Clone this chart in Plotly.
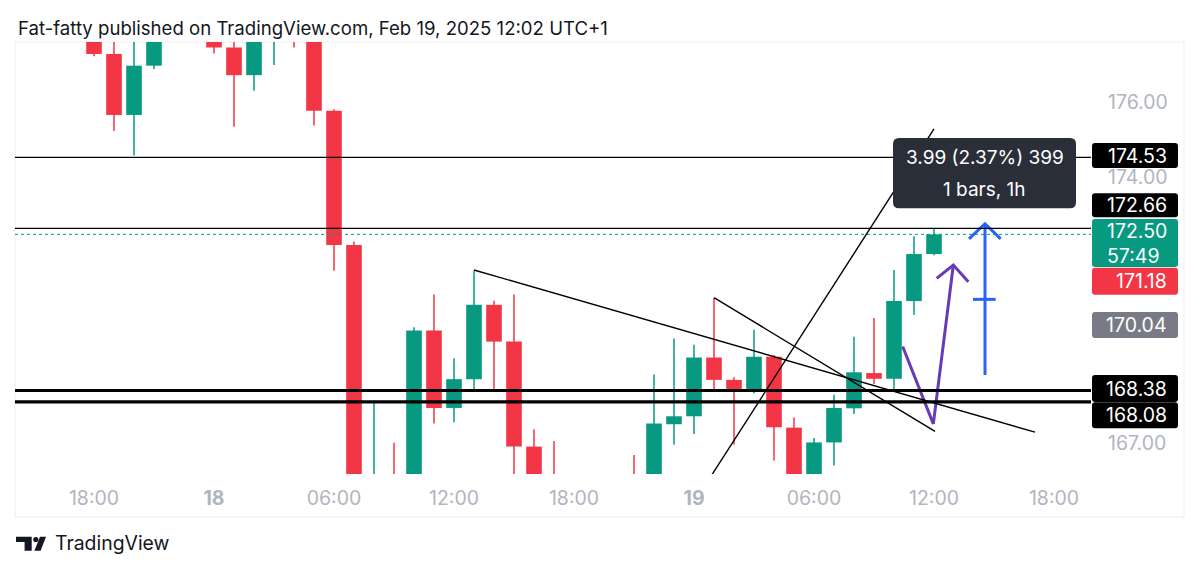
import plotly.graph_objects as go
import pandas as pd

# ---------------- data (1h candles) ----------------
times = [
    "2025-02-17 18:00", "2025-02-17 19:00", "2025-02-17 20:00", "2025-02-17 21:00",
    "2025-02-18 00:00", "2025-02-18 01:00", "2025-02-18 02:00", "2025-02-18 03:00",
    "2025-02-18 04:00", "2025-02-18 05:00", "2025-02-18 06:00", "2025-02-18 07:00",
    "2025-02-18 08:00", "2025-02-18 09:00", "2025-02-18 10:00", "2025-02-18 11:00",
    "2025-02-18 12:00", "2025-02-18 13:00", "2025-02-18 14:00", "2025-02-18 15:00",
    "2025-02-18 16:00", "2025-02-18 17:00", "2025-02-18 21:00", "2025-02-18 22:00",
    "2025-02-18 23:00", "2025-02-19 00:00", "2025-02-19 01:00", "2025-02-19 02:00",
    "2025-02-19 03:00", "2025-02-19 04:00", "2025-02-19 05:00", "2025-02-19 06:00",
    "2025-02-19 07:00", "2025-02-19 08:00", "2025-02-19 09:00", "2025-02-19 10:00",
    "2025-02-19 11:00", "2025-02-19 12:00",
]
opens = [
    177.90, 177.26, 175.65, 176.95,
    178.10, 177.43, 176.70, 177.80,
    178.20, 177.90, 175.76, 172.22,
    165.60, 165.95, 165.70, 169.96,
    167.92, 168.68, 170.64, 169.67,
    166.90, 165.90, 165.90, 165.80,
    167.49, 167.70, 169.25, 168.66,
    168.40, 169.27, 167.40, 165.90,
    167.01, 167.91, 168.84, 168.69,
    170.74, 171.98,
]
highs = [
    178.20, 177.70, 177.70, 178.30,
    178.30, 177.80, 178.00, 178.30,
    178.30, 178.00, 175.80, 172.31,
    168.11, 167.00, 170.05, 170.91,
    169.23, 171.54, 170.75, 170.91,
    167.36, 167.05, 166.68, 168.80,
    169.75, 169.59, 170.82, 168.73,
    169.98, 169.32, 167.67, 167.13,
    168.27, 169.80, 170.29, 171.56,
    172.45, 172.67,
]
lows = [
    177.20, 175.23, 174.58, 176.86,
    177.27, 175.34, 176.29, 176.97,
    177.43, 175.37, 171.54, 165.50,
    165.30, 165.30, 165.40, 167.51,
    167.54, 168.36, 168.39, 165.90,
    165.50, 165.40, 165.30, 165.50,
    166.95, 167.23, 168.37, 166.95,
    168.30, 166.53, 165.80, 165.70,
    166.40, 167.76, 168.55, 168.36,
    170.37, 171.95,
]
closes = [
    177.26, 175.65, 176.95, 177.90,
    177.43, 176.70, 177.90, 178.10,
    177.90, 175.76, 172.22, 165.80,
    165.95, 165.60, 169.96, 167.92,
    168.68, 170.64, 169.67, 166.90,
    165.90, 165.70, 165.70, 167.51,
    167.70, 169.25, 168.66, 168.42,
    169.27, 167.41, 165.90, 167.01,
    167.92, 168.86, 168.69, 170.74,
    171.98, 172.50,
]

# horizontal levels
level_prices = [174.53, 172.66, 168.38, 168.08]
level_widths = [1.3, 1.3, 3.2, 3.2]
last_price = 172.50

# trend lines: (start time, start price, end time, end price)
trend_lines = [
    ("2025-02-18 13:00", 171.56, "2025-02-19 17:03", 167.28),
    ("2025-02-19 01:00", 170.83, "2025-02-19 12:03", 167.30),
    ("2025-02-19 00:54", 166.16, "2025-02-19 12:00", 175.28),
]

# purple path arrow
purple_times = ["2025-02-19 10:26", "2025-02-19 11:58", "2025-02-19 12:58"]
purple_prices = [169.54, 167.50, 171.69]
purple_head_times = ["2025-02-19 12:08", "2025-02-19 12:58", "2025-02-19 13:43"]
purple_head_prices = [171.34, 171.69, 171.25]

# blue measure arrow
blue_time = "2025-02-19 14:33"
blue_low, blue_high = 168.79, 172.78
blue_head_times = ["2025-02-19 13:45", "2025-02-19 14:33", "2025-02-19 15:20"]
blue_head_prices = [172.38, 172.78, 172.38]
blue_tick_times = ["2025-02-19 13:57", "2025-02-19 15:05"]

# measure tooltip
tooltip_lines = ["3.99 (2.37%) 399", "1 bars, 1h"]
tooltip_times = ["2025-02-19 09:57", "2025-02-19 19:06"]
tooltip_prices = [173.19, 175.04]

# price-scale labels: text, box centre price, box height (px), colour
label_texts = ["174.53", "172.66", "172.50<br>57:49", "171.18", "170.04", "168.38", "168.08"]
label_centers = [174.58, 173.27, 172.27, 171.26, 170.11, 168.43, 167.73]
label_heights = [25, 24, 48, 27, 26, 27, 26]
label_colors = ["#000000", "#000000", "#089981", "#F23645", "#787B86", "#000000", "#000000"]

# axis tick labels
x_tick_times = ["2025-02-17 18:00", "2025-02-18 00:00", "2025-02-18 06:00", "2025-02-18 12:00",
                "2025-02-18 18:00", "2025-02-19 00:00", "2025-02-19 06:00", "2025-02-19 12:00",
                "2025-02-19 18:00"]
x_tick_text = ["18:00", "<b>18</b>", "06:00", "12:00", "18:00", "<b>19</b>", "06:00", "12:00", "18:00"]
y_tick_vals = [176, 174, 167]
y_tick_text = ["176.00", "174.00", "167.00"]

title_text = "Fat-fatty published on TradingView.com, Feb 19, 2025 12:02 UTC+1"

# ---------------- helpers ----------------
ORIGIN = pd.Timestamp("2025-02-17 00:00")


def hrs(t):
    return (pd.Timestamp(t) - ORIGIN) / pd.Timedelta(hours=1)


GREEN = "#089981"
RED = "#F23645"
FONT = "Inter"
TICKCOL = "#B2B5BE"
LABEL_SIZE = 19.5

X_RANGE = [14.05, 67.85]
Y_RANGE = [166.177, 177.575]
PLOT_W, PLOT_H = 1076, 432
PX_X = (X_RANGE[1] - X_RANGE[0]) / PLOT_W     # data units per pixel
PX_Y = (Y_RANGE[1] - Y_RANGE[0]) / PLOT_H
PAGE_OFF = 8  # default page body margin


def rrect(x0, x1, y0, y1, rx, ry):
    return (f"M{x0+rx},{y0} L{x1-rx},{y0} Q{x1},{y0} {x1},{y0+ry} "
            f"L{x1},{y1-ry} Q{x1},{y1} {x1-rx},{y1} L{x0+rx},{y1} "
            f"Q{x0},{y1} {x0},{y1-ry} L{x0},{y0+ry} Q{x0},{y0} {x0+rx},{y0} Z")


xs = [hrs(t) for t in times]

fig = go.Figure()

# wicks
for col, cond in ((GREEN, lambda o, c: c >= o), (RED, lambda o, c: c < o)):
    wx, wy = [], []
    for x, o, h, l, c in zip(xs, opens, highs, lows, closes):
        if cond(o, c):
            wx += [x, x, None]
            wy += [l, h, None]
    fig.add_trace(go.Scatter(x=wx, y=wy, mode="lines", line=dict(color=col, width=1.5),
                             hoverinfo="skip"))

# bodies
for col, cond in ((GREEN, lambda o, c: c >= o), (RED, lambda o, c: c < o)):
    bx, by, bb = [], [], []
    for x, o, c in zip(xs, opens, closes):
        if cond(o, c):
            bx.append(x)
            bb.append(o)
            by.append(c - o)
    fig.add_trace(go.Bar(x=bx, y=by, base=bb, width=0.78, marker=dict(color=col, line=dict(width=0)),
                         hoverinfo="skip"))

shapes = []
# horizontal levels
for p, w in zip(level_prices, level_widths):
    shapes.append(dict(type="line", xref="paper", yref="y", x0=0, x1=1, y0=p, y1=p,
                       line=dict(color="#000000", width=w), layer="above"))
shapes.append(dict(type="line", xref="paper", yref="y", x0=0, x1=1, y0=last_price, y1=last_price,
                   line=dict(color=GREEN, width=1, dash="dot"), layer="above"))

# trend lines
for t0, p0, t1, p1 in trend_lines:
    shapes.append(dict(type="line", xref="x", yref="y", x0=hrs(t0), y0=p0, x1=hrs(t1), y1=p1,
                       line=dict(color="#000000", width=1.4), layer="above"))

# tooltip box (drawn over lines)
shapes.append(dict(type="path", xref="x", yref="y",
                   path=rrect(hrs(tooltip_times[0]), hrs(tooltip_times[1]),
                              tooltip_prices[0], tooltip_prices[1], 6 * PX_X, 6 * PX_Y),
                   fillcolor="#2A2E39", line=dict(width=0), layer="above"))

# price-scale label boxes
LX0 = (1092 - 15) / PLOT_W
LX1 = (1178 - 15) / PLOT_W
for c, h, col in zip(label_centers, label_heights, label_colors):
    hh = h / 2 * PX_Y
    shapes.append(dict(type="path", xref="paper", yref="y",
                       path=rrect(LX0, LX1, c - hh, c + hh, 3 / PLOT_W, 3 * PX_Y),
                       fillcolor=col, line=dict(width=0), layer="above"))

# outer frame
shapes.append(dict(type="rect", xref="paper", yref="paper", x0=0, x1=(1184 - 15) / PLOT_W,
                   y0=(474 - 517) / PLOT_H, y1=1.0, line=dict(color="#ECEEF2", width=1),
                   fillcolor="rgba(0,0,0,0)", layer="below"))


# TradingView logo (paper coords from page pixels)
def pxp(X, Y):
    return (X - 15) / PLOT_W, (474 - Y) / PLOT_H


def poly(pts):
    s = ""
    for i, (X, Y) in enumerate(pts):
        a, b = pxp(X, Y)
        s += ("M" if i == 0 else "L") + f"{a},{b} "
    return s + "Z"


shapes.append(dict(type="path", xref="paper", yref="paper",
                   path=poly([(16, 536.7), (31.7, 536.7), (31.7, 550.7), (24.6, 550.7),
                              (24.6, 541.9), (16, 541.9)]),
                   fillcolor="#131722", line=dict(width=0)))
cx0, cy0 = pxp(33.2, 536.9)
cx1, cy1 = pxp(38.4, 542.1)
shapes.append(dict(type="circle", xref="paper", yref="paper", x0=cx0, x1=cx1, y0=cy1, y1=cy0,
                   fillcolor="#131722", line=dict(width=0)))
shapes.append(dict(type="path", xref="paper", yref="paper",
                   path=poly([(40.0, 536.7), (46.0, 536.7), (40.6, 550.7), (34.4, 550.7)]),
                   fillcolor="#131722", line=dict(width=0)))

fig.update_layout(shapes=shapes)

# purple path arrow
fig.add_trace(go.Scatter(x=[hrs(t) for t in purple_times], y=purple_prices, mode="lines",
                         line=dict(color="#673AB7", width=3), hoverinfo="skip"))
fig.add_trace(go.Scatter(x=[hrs(t) for t in purple_head_times], y=purple_head_prices, mode="lines",
                         line=dict(color="#673AB7", width=3), hoverinfo="skip"))
# blue arrow
bt = hrs(blue_time)
fig.add_trace(go.Scatter(x=[bt, bt], y=[blue_low, blue_high], mode="lines",
                         line=dict(color="#2962FF", width=3), hoverinfo="skip"))
fig.add_trace(go.Scatter(x=[hrs(t) for t in blue_head_times], y=blue_head_prices, mode="lines",
                         line=dict(color="#2962FF", width=3), hoverinfo="skip"))
mid = (blue_low + blue_high) / 2
fig.add_trace(go.Scatter(x=[hrs(t) for t in blue_tick_times], y=[mid, mid], mode="lines",
                         line=dict(color="#2962FF", width=3), hoverinfo="skip"))

annotations = []
# tooltip text
tcx = (hrs(tooltip_times[0]) + hrs(tooltip_times[1])) / 2
tcy = (tooltip_prices[0] + tooltip_prices[1]) / 2
annotations.append(dict(x=tcx, y=tcy + 16 * PX_Y, xref="x", yref="y", text=tooltip_lines[0],
                        showarrow=False, font=dict(family=FONT, size=19, color="#FFFFFF")))
annotations.append(dict(x=tcx, y=tcy - 16 * PX_Y, xref="x", yref="y", text=tooltip_lines[1],
                        showarrow=False, font=dict(family=FONT, size=19, color="#FFFFFF")))
# label texts
for t, c in zip(label_texts, label_centers):
    annotations.append(dict(x=(1169 - 15) / PLOT_W, y=c, xref="paper", yref="y", text=t,
                            xanchor="right", yanchor="middle", showarrow=False, align="left",
                            font=dict(family=FONT, size=LABEL_SIZE, color="#FFFFFF")))
# title
annotations.append(dict(x=(16 - 15) / PLOT_W, y=(474 - 28) / PLOT_H, xref="paper", yref="paper",
                        text=title_text, xanchor="left", yanchor="middle", showarrow=False,
                        font=dict(family=FONT, size=18.6, color="#131722")))
# footer brand
annotations.append(dict(x=(53 - 15) / PLOT_W, y=(474 - 543) / PLOT_H, xref="paper", yref="paper",
                        text="TradingView", xanchor="left", yanchor="middle", showarrow=False,
                        font=dict(family=FONT, size=19.4, color="#131722")))

fig.update_layout(
    width=1200 - PAGE_OFF, height=572 - PAGE_OFF,
    margin=dict(l=15 - PAGE_OFF, r=109, t=42 - PAGE_OFF, b=98),
    paper_bgcolor="#FFFFFF", plot_bgcolor="#FFFFFF",
    showlegend=False, barmode="overlay",
    annotations=annotations,
    xaxis=dict(range=X_RANGE, tickvals=[hrs(t) for t in x_tick_times], ticktext=x_tick_text,
               showgrid=False, zeroline=False, showline=False, ticks="",
               tickfont=dict(family=FONT, size=LABEL_SIZE, color=TICKCOL), ticklabelstandoff=10,
               fixedrange=True),
    yaxis=dict(range=Y_RANGE, side="right", tickvals=y_tick_vals, ticktext=y_tick_text,
               showgrid=False, zeroline=False, showline=False, ticks="",
               tickfont=dict(family=FONT, size=LABEL_SIZE, color=TICKCOL), ticklabelstandoff=16,
               fixedrange=True),
    hovermode=False,
)

fig.write_html("out.html")
